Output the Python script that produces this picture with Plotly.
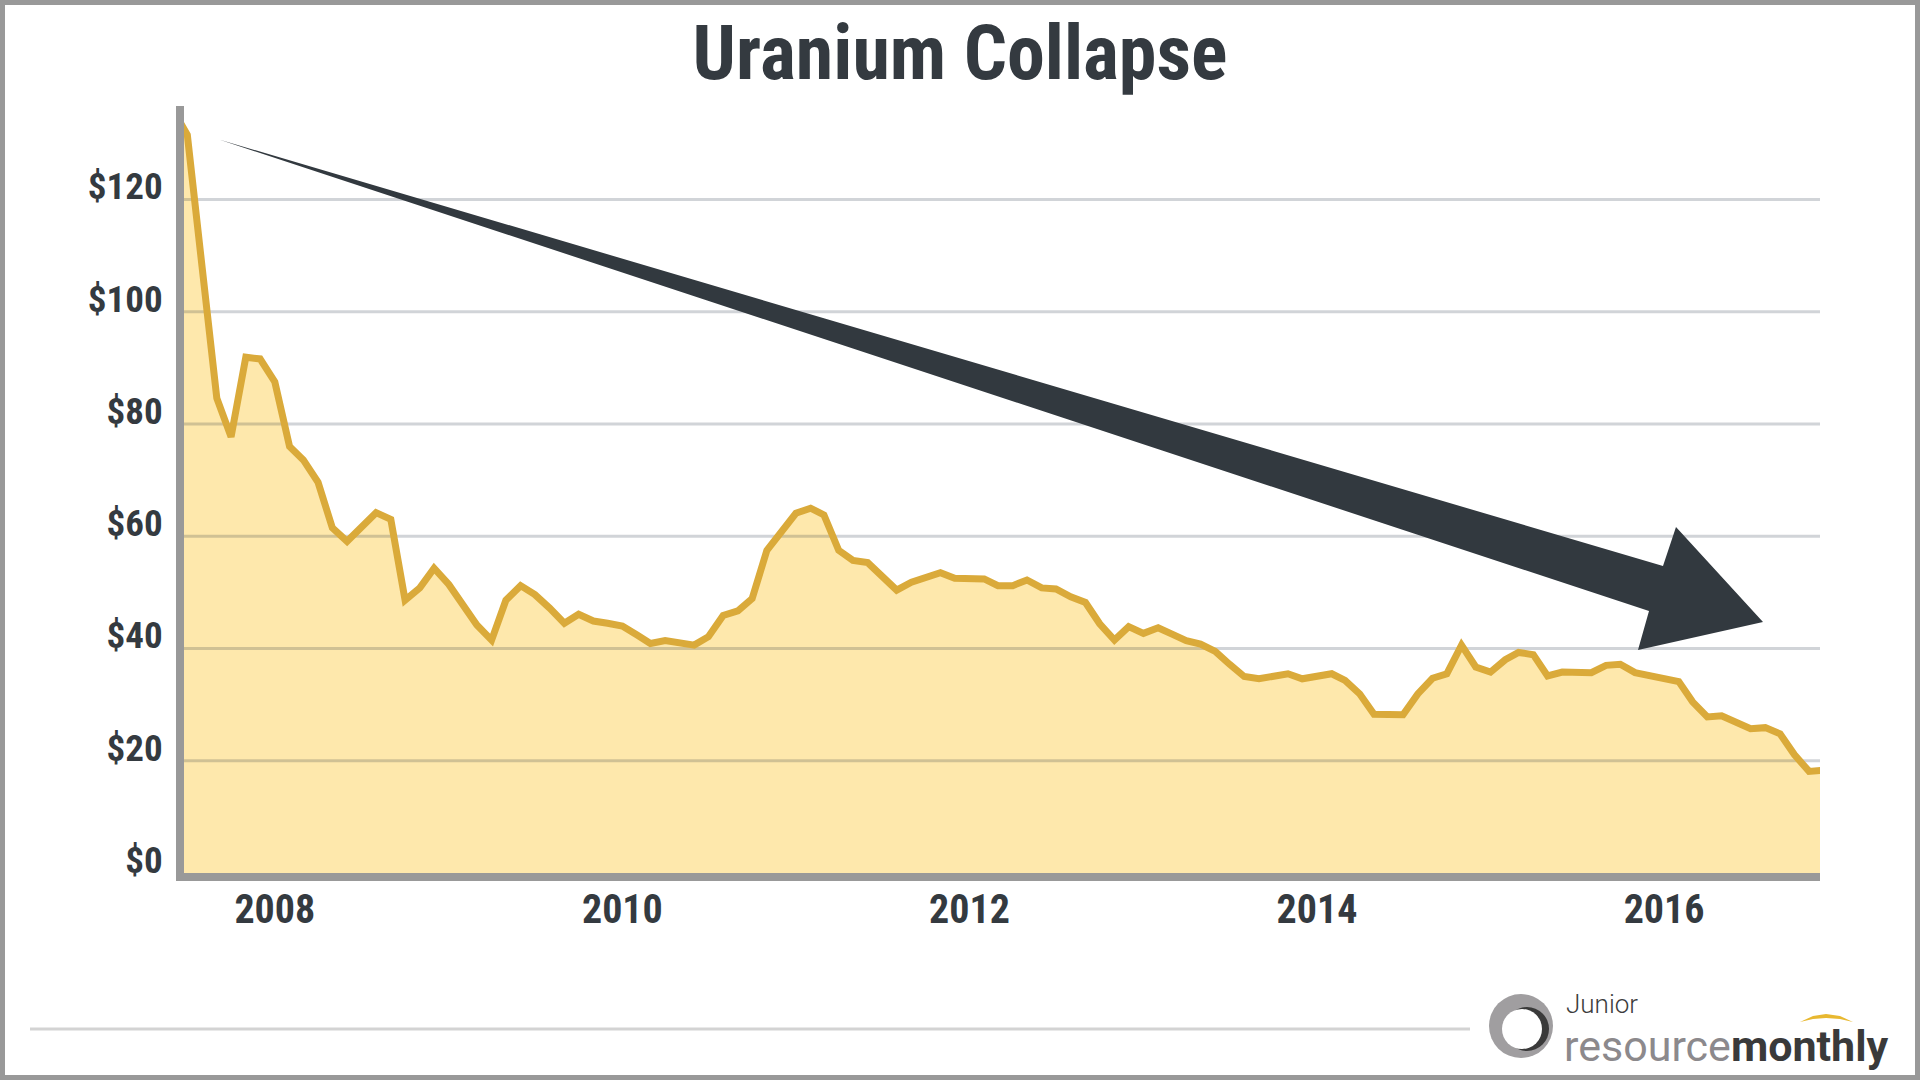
import pandas as pd
import plotly.graph_objects as go

# monthly uranium spot price, US$/lb
price_2007 = [136.0, 131.5, 108.0, 84.6, 77.7, 91.9, 91.6]  # Jun-Dec
price_2008 = [87.5, 76.0, 73.6, 69.6, 61.5, 59.1, 61.7, 64.2, 63.0, 48.6, 50.8, 54.3]
price_2009 = [51.4, 47.5, 44.2, 41.5, 48.6, 51.2, 49.6, 47.2, 44.5, 46.1, 44.9, 44.5]
price_2010 = [44.0, 42.4, 40.9, 41.4, 41.1, 40.6, 42.1, 45.9, 46.7, 48.9, 57.5, 60.8]
price_2011 = [64.1, 65.0, 63.8, 57.5, 55.7, 55.3, 52.8, 50.4, 51.8, 52.6, 53.5, 52.5]
price_2012 = [52.4, 52.4, 51.2, 51.2, 52.2, 50.8, 50.6, 49.2, 48.2, 44.4, 41.5, 43.9]
price_2013 = [42.7, 43.7, 42.6, 41.4, 40.8, 39.5, 37.2, 35.0, 34.6, 34.9, 35.5, 34.6]
price_2014 = [35.0, 35.5, 34.3, 31.9, 28.3, 28.2, 28.2, 31.9, 34.7, 35.5, 40.6, 36.7]
price_2015 = [35.8, 38.0, 39.3, 38.9, 35.1, 35.8, 35.9, 35.7, 37.0, 37.2, 35.7, 35.1]
price_2016 = [34.7, 34.1, 30.5, 27.8, 28.0, 26.7, 25.7, 25.9, 24.8, 21.1, 18.1, 18.3]

prices = (price_2007 + price_2008 + price_2009 + price_2010 + price_2011
          + price_2012 + price_2013 + price_2014 + price_2015 + price_2016)
months = pd.date_range("2007-06-01", periods=len(prices), freq="MS")

y_ticks = [0, 20, 40, 60, 80, 100, 120]
y_labels = ["$" + str(v) for v in y_ticks]
x_range = ["2007-06-24", "2016-11-24"]

FONT = "Roboto Condensed, Liberation Sans Narrow, Noto Sans Condensed, Roboto, sans-serif"
DARK = "#343a40"
GOLD = "#daaa3a"
FILL = "#fee8ac"
AXIS = "#999999"

W, H = 1920, 1080
L, R, T, B = 184, 1820, 106, 873   # plot area in pixels
PX_PER_USD = 5.6125


def paper(x, y):
    return (x - L) / (R - L), (B - y) / (B - T)


def path(points):
    parts = []
    for i, (x, y) in enumerate(points):
        u, v = paper(x, y)
        parts.append(("M" if i == 0 else "L") + f"{u:.5f},{v:.5f}")
    return " ".join(parts) + " Z"


def circle(cx, cy, r, color):
    x0, y0 = paper(cx - r, cy + r)
    x1, y1 = paper(cx + r, cy - r)
    return dict(type="circle", xref="paper", yref="paper", x0=x0, y0=y0, x1=x1, y1=y1,
                fillcolor=color, line=dict(width=0), layer="above")


fig = go.Figure()

# area under the curve
fig.add_trace(go.Scatter(x=months, y=prices, mode="lines", line=dict(width=0, color=FILL),
                         fill="tozeroy", fillcolor=FILL, hoverinfo="skip"))

# gridlines sit over the fill but under the price line
gx, gy = [], []
for v in y_ticks[1:]:
    gx += [x_range[0], x_range[1], None]
    gy += [v, v, None]
fig.add_trace(go.Scatter(x=gx, y=gy, mode="lines", hoverinfo="skip",
                         line=dict(color="rgba(0,16,38,0.18)", width=3)))

fig.add_trace(go.Scatter(x=months, y=prices, mode="lines", line=dict(color=GOLD, width=7)))

# big downward arrow
arrow = [(219, 139.5), (1663, 566), (1676, 527), (1763, 622), (1638, 650), (1649, 611)]
shapes = [dict(type="path", xref="paper", yref="paper", path=path(arrow),
               fillcolor="#32393f", line=dict(width=0), layer="above")]

# outer frame and footer rule
fx0, fy0 = paper(0, H)
fx1, fy1 = paper(W, 0)
shapes.append(dict(type="rect", xref="paper", yref="paper", x0=fx0, y0=fy0, x1=fx1, y1=fy1,
                   line=dict(color=AXIS, width=10), fillcolor="rgba(0,0,0,0)", layer="above"))
rx0, ry = paper(30, 1029)
rx1, _ = paper(1470, 1029)
shapes.append(dict(type="line", xref="paper", yref="paper", x0=rx0, y0=ry, x1=rx1, y1=ry,
                   line=dict(color="#d3d3d3", width=3), layer="above"))

# logo mark
shapes.append(circle(1521, 1026, 32, "#a09ea0"))
shapes.append(circle(1527, 1029, 22, "#3a3a3a"))
shapes.append(circle(1522, 1029, 20, "white"))
shapes.append(dict(type="path", xref="paper", yref="paper",
                   path=path([(1800, 1022), (1813, 1016), (1826, 1014), (1840, 1016), (1853, 1022),
                              (1840, 1019), (1826, 1018), (1813, 1019)]),
                   fillcolor="#e8b830", line=dict(width=0), layer="above"))

jx, jy = paper(1564, 1004)
wx, wy = paper(1562, 1046)
annotations = [
    dict(text="Junior", xref="paper", yref="paper", x=jx, y=jy, xanchor="left", yanchor="middle",
         showarrow=False, font=dict(family="Roboto, sans-serif", size=26, color="#3c3c3c", weight=300)),
    dict(text="<span style='color:#8c898c'>resource</span><b>monthly</b>", xref="paper", yref="paper",
         x=wx, y=wy, xanchor="left", yanchor="middle", showarrow=False,
         font=dict(family="Roboto, sans-serif", size=43, color="#3a3a3a")),
]

fig.update_layout(
    width=W, height=H,
    margin=dict(l=L, r=W - R, t=T, b=H - B, pad=0),
    paper_bgcolor="white", plot_bgcolor="white",
    showlegend=False,
    title=dict(text="Uranium Collapse", x=0.5, xref="container", xanchor="center",
               y=1 - 52 / H, yref="container", yanchor="middle",
               font=dict(family=FONT, size=76, color=DARK, weight="bold")),
    shapes=shapes,
    annotations=annotations,
)
fig.update_xaxes(type="date", range=x_range, showgrid=False, zeroline=False,
                 showline=True, linecolor=AXIS, linewidth=8, ticks="",
                 tick0="2008-01-01", dtick="M24", tickformat="%Y",
                 ticklabelstandoff=-6,
                 tickfont=dict(family=FONT, size=40, color=DARK, weight="bold"))
fig.update_yaxes(range=[0, (B - T) / PX_PER_USD], showgrid=False, zeroline=False,
                 showline=True, linecolor=AXIS, linewidth=8, ticks="",
                 tickvals=y_ticks, ticktext=y_labels,
                 ticklabelshift=-13, ticklabelstandoff=6,
                 tickfont=dict(family=FONT, size=37, color=DARK, weight="bold"))

fig.write_html("out.html", config={"displayModeBar": False},
               post_script="document.body.style.margin='0';")
